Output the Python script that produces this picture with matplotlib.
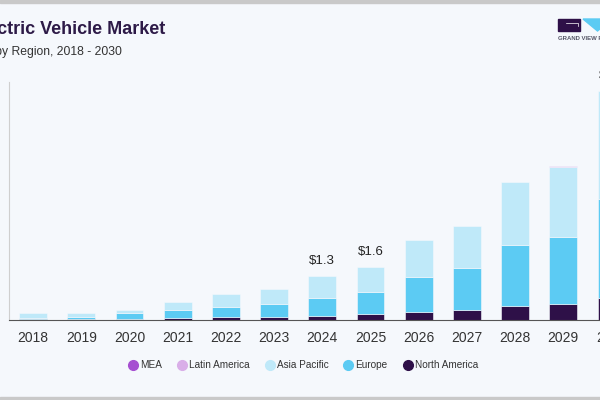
import matplotlib
matplotlib.use("Agg")
import numpy as np
import matplotlib.pyplot as plt
from matplotlib.lines import Line2D
from matplotlib.patches import Rectangle, Polygon

plt.rcParams['font.family'] = ['Liberation Sans', 'DejaVu Sans']

# data (USD trillion)
years = ['2018', '2019', '2020', '2021', '2022', '2023', '2024',
         '2025', '2026', '2027', '2028', '2029', '2030']
north_america = [0.04, 0.03, 0.03, 0.06, 0.075, 0.09, 0.13, 0.17, 0.23, 0.29, 0.40, 0.47, 0.64]
europe = [0.03, 0.06, 0.16, 0.22, 0.29, 0.38, 0.52, 0.65, 1.00, 1.20, 1.76, 1.92, 2.86]
asia_pacific = [0.13, 0.11, 0.10, 0.24, 0.38, 0.44, 0.63, 0.71, 1.09, 1.23, 1.84, 2.02, 3.13]
latin_america = [0.0, 0.0, 0.0, 0.0, 0.0, 0.0, 0.0, 0.0, 0.0, 0.0, 0.0, 0.03, 0.0]
mea = [0.0, 0.0, 0.0, 0.0, 0.0, 0.0, 0.0, 0.0, 0.0, 0.0, 0.0, 0.0, 0.0]
labels = {'2024': '$1.3', '2025': '$1.6', '2030': '$6.7'}

series = [('North America', north_america, '#2e1048'),
          ('Europe', europe, '#5ccbf3'),
          ('Asia Pacific', asia_pacific, '#bfe9f9'),
          ('Latin America', latin_america, '#d9aee8'),
          ('MEA', mea, '#a64fd1')]

bg = '#f5f8fc'
fig = plt.figure(figsize=(6, 4), dpi=100, facecolor=bg)

# gray bands top and bottom
fig.patches.append(Rectangle((0, 0.9925), 1, 0.0075, transform=fig.transFigure,
                             color='#c9c9c9', zorder=0))
fig.patches.append(Rectangle((0, 0), 1, 0.0075, transform=fig.transFigure,
                             color='#c9c9c9', zorder=0))

ax = fig.add_axes([9 / 600, 0.2, 626.6 / 600, 238 / 400])
ax.set_facecolor(bg)

x = np.arange(len(years))
bottom = np.zeros(len(years))
for name, vals, col in series:
    vals = np.array(vals)
    ax.bar(x, vals, 0.58, bottom=bottom, color=col, edgecolor=bg,
           linewidth=np.where(vals > 0, 0.4, 0))
    bottom += vals

for i, y in enumerate(years):
    if y in labels:
        ax.text(x[i], bottom[i] + 0.43, labels[y], ha='center', va='center',
                fontsize=9.5, color='#222222')

ax.set_xlim(-0.5, 12.5)
ax.set_ylim(0, 6.88)
ax.set_xticks(x)
ax.set_xticklabels(years, fontsize=10, color='#333333')
ax.tick_params(axis='x', length=0, pad=8)
ax.set_yticks([])
for s in ['top', 'right']:
    ax.spines[s].set_visible(False)
ax.spines['left'].set_color('#cfcfcf')
ax.spines['bottom'].set_color('#555555')

# title, cut at the left edge like the source
fig.text(165 / 600, 1 - 34 / 400, 'Electric Vehicle Market', ha='right', va='baseline',
         fontsize=13, fontweight='bold', color='#2d1a47')
fig.text(122 / 600, 1 - 55 / 400, 'Size, by Region, 2018 - 2030', ha='right', va='baseline',
         fontsize=8.7, color='#333333')

# logo
fig.patches.append(Rectangle((558 / 600, 1 - 31 / 400), 22 / 600, 12 / 400,
                             transform=fig.transFigure, color='#2e1048'))
fig.lines.append(Line2D([566 / 600, 578 / 600, 578 / 600], [1 - 23 / 400, 1 - 23 / 400, 1 - 26 / 400],
                        transform=fig.transFigure, color='white', lw=0.5))
fig.patches.append(Polygon([(583 / 600, 1 - 19 / 400), (612 / 600, 1 - 19 / 400),
                            (597.5 / 600, 1 - 31 / 400)],
                           transform=fig.transFigure, color='#5ccbf3'))
fig.text(558 / 600, 1 - 38 / 400, 'GRAND VIEW RESEARCH', ha='left', va='center',
         fontsize=4.3, fontweight='bold', color='#555566')

# legend
handles = [Line2D([], [], marker='o', ls='', markersize=7, color=c, label=n)
           for n, _, c in series[::-1]]
fig.legend(handles=handles, loc='center', bbox_to_anchor=(0.505, 0.0875), ncol=5,
           frameon=False, fontsize=7.2, handletextpad=0.2, columnspacing=1.5,
           handlelength=1.0, labelcolor='#333333')

fig.savefig('out.png', dpi=100, facecolor=bg)
